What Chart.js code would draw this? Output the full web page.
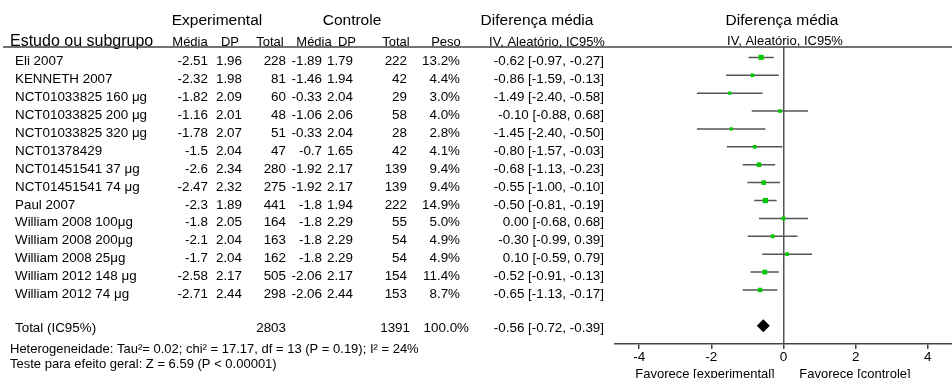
<!DOCTYPE html>
<html>
<head>
<meta charset="utf-8">
<script src="https://cdn.jsdelivr.net/npm/chart.js@4"></script>
<style>
  html, body { margin: 0; padding: 0; background: #fff; }
</style>
</head>
<body>
<canvas id="forestCanvas" width="952" height="378"></canvas>
<script>
// study rows, top to bottom
const studies = ["Eli 2007", "KENNETH 2007", "NCT01033825 160 μg", "NCT01033825 200 μg", "NCT01033825 320 μg",
  "NCT01378429", "NCT01451541 37 μg", "NCT01451541 74 μg", "Paul 2007", "William 2008 100μg",
  "William 2008 200μg", "William 2008 25μg", "William 2012 148 μg", "William 2012 74 μg"];
const expMean = [-2.51, -2.32, -1.82, -1.16, -1.78, -1.5, -2.6, -2.47, -2.3, -1.8, -2.1, -1.7, -2.58, -2.71];
const expSD = [1.96, 1.98, 2.09, 2.01, 2.07, 2.04, 2.34, 2.32, 1.89, 2.05, 2.04, 2.04, 2.17, 2.44];
const expN = [228, 81, 60, 48, 51, 47, 280, 275, 441, 164, 163, 162, 505, 298];
const ctrlMean = [-1.89, -1.46, -0.33, -1.06, -0.33, -0.7, -1.92, -1.92, -1.8, -1.8, -1.8, -1.8, -2.06, -2.06];
const ctrlSD = [1.79, 1.94, 2.04, 2.06, 2.04, 1.65, 2.17, 2.17, 1.94, 2.29, 2.29, 2.29, 2.17, 2.44];
const ctrlN = [222, 42, 29, 58, 28, 42, 139, 139, 222, 55, 54, 54, 154, 153];
const weights = [13.2, 4.4, 3.0, 4.0, 2.8, 4.1, 9.4, 9.4, 14.9, 5.0, 4.9, 4.9, 11.4, 8.7];
const meanDiff = [-0.62, -0.86, -1.49, -0.10, -1.45, -0.80, -0.68, -0.55, -0.50, 0.00, -0.30, 0.10, -0.52, -0.65];
const ciLow = [-0.97, -1.59, -2.40, -0.88, -2.40, -1.57, -1.13, -1.00, -0.81, -0.68, -0.99, -0.59, -0.91, -1.13];
const ciHigh = [-0.27, -0.13, -0.58, 0.68, -0.50, -0.03, -0.23, -0.10, -0.19, 0.68, 0.39, 0.79, -0.13, -0.17];

// pooled result
const totalExpN = 2803;
const totalCtrlN = 1391;
const totalWeight = 100.0;
const totalMD = -0.56;
const totalLow = -0.72;
const totalHigh = -0.39;
const totalRow = 15;

const xTicks = [-4, -2, 0, 2, 4];

const FONT = '"Liberation Sans", Arial, Helvetica, sans-serif';
const BODY = 13.4;

// whisker segments, broken by gaps
const whiskers = [];
for (let i = 0; i < studies.length; i++) {
  whiskers.push({x: ciLow[i], y: i}, {x: ciHigh[i], y: i}, {x: null, y: null});
}

const fmt2 = v => v.toFixed(2);

const tablePlugin = {
  id: "table",
  afterDraw(chart) {
    const ctx = chart.ctx;
    const ys = chart.scales.y;
    const area = chart.chartArea;
    ctx.save();
    ctx.fillStyle = "#000";
    ctx.textBaseline = "alphabetic";

    function txt(s, x, y, align, size) {
      ctx.font = size + "px " + FONT;
      ctx.textAlign = align;
      ctx.fillText(s, x, y);
    }

    // group headers
    txt("Experimental", 217, 25, "center", 15.5);
    txt("Controle", 352, 25, "center", 15.5);
    txt("Diferença média", 537, 25, "center", 15.5);
    txt("Diferença média", 782, 25, "center", 15.5);
    txt("Estudo ou subgrupo", 10, 45.5, "left", 16);
    txt("Média", 190, 45.5, "center", 13);
    txt("DP", 230, 45.5, "center", 13);
    txt("Total", 270, 45.5, "center", 13);
    txt("Média", 314, 45.5, "center", 13);
    txt("DP", 347, 45.5, "center", 13);
    txt("Total", 396, 45.5, "center", 13);
    txt("Peso", 446, 45.5, "center", 13);
    txt("IV, Aleatório, IC95%", 547, 45.5, "center", 13);
    txt("IV, Aleatório, IC95%", 785, 44.5, "center", 13);

    // header rule
    ctx.strokeStyle = "#444";
    ctx.lineWidth = 1.5;
    ctx.beginPath();
    ctx.moveTo(3, area.top);
    ctx.lineTo(952, area.top);
    ctx.stroke();

    // study rows
    for (let i = 0; i < studies.length; i++) {
      const y = ys.getPixelForValue(i) + 8;
      txt(studies[i], 15, y, "left", BODY);
      txt(String(expMean[i]), 208, y, "right", BODY);
      txt(fmt2(expSD[i]), 242, y, "right", BODY);
      txt(String(expN[i]), 286, y, "right", BODY);
      txt(String(ctrlMean[i]), 322, y, "right", BODY);
      txt(fmt2(ctrlSD[i]), 353, y, "right", BODY);
      txt(String(ctrlN[i]), 407, y, "right", BODY);
      txt(weights[i].toFixed(1) + "%", 460, y, "right", BODY);
      txt(fmt2(meanDiff[i]) + " [" + fmt2(ciLow[i]) + ", " + fmt2(ciHigh[i]) + "]", 604, y, "right", BODY);
    }

    // total row
    const ty = ys.getPixelForValue(totalRow) + 6;
    txt("Total (IC95%)", 15, ty, "left", BODY);
    txt(String(totalExpN), 286, ty, "right", BODY);
    txt(String(totalCtrlN), 410, ty, "right", BODY);
    txt(totalWeight.toFixed(1) + "%", 469, ty, "right", BODY);
    txt(fmt2(totalMD) + " [" + fmt2(totalLow) + ", " + fmt2(totalHigh) + "]", 604, ty, "right", BODY);

    txt("Heterogeneidade: Tau²= 0.02; chi² = 17.17, df = 13 (P = 0.19); I² = 24%", 10, 352.5, "left", 13);
    txt("Teste para efeito geral: Z = 6.59 (P < 0.00001)", 10, 368, "left", 13);

    // favours labels under the axis
    txt("Favorece [experimental]", 705, 377.5, "center", 13);
    txt("Favorece [controle]", 855, 377.5, "center", 13);
    ctx.restore();
  }
};

new Chart("forestCanvas", {
  type: "scatter",
  data: {
    datasets: [
      {
        data: whiskers,
        showLine: true,
        spanGaps: false,
        borderColor: "#555",
        borderWidth: 1.5,
        pointRadius: 0,
        order: 2
      },
      {
        data: meanDiff.map((v, i) => ({x: v, y: i})),
        pointStyle: "rect",
        pointRadius: weights.map(w => 0.707 * (1.8 + 0.9 * Math.sqrt(w))),
        backgroundColor: "#00c800",
        borderWidth: 0,
        order: 1
      },
      {
        data: [{x: totalMD, y: totalRow}],
        pointStyle: "rectRot",
        pointRadius: 6.5,
        backgroundColor: "#000",
        borderWidth: 0,
        order: 0
      }
    ]
  },
  options: {
    responsive: false,
    animation: false,
    layout: { autoPadding: false, padding: { left: 615, top: 47, right: 0, bottom: 0 } },
    plugins: {
      legend: { display: false },
      tooltip: { enabled: false }
    },
    scales: {
      x: {
        type: "linear",
        position: "bottom",
        min: -4.67,
        max: 4.67,
        afterBuildTicks: s => { s.ticks = xTicks.map(v => ({value: v})); },
        afterFit: s => {
          s.height = 34;
          s.paddingLeft = 0;
          s.paddingRight = 0;
        },
        ticks: {
          font: { family: FONT, size: 13.5 },
          color: "#000",
          padding: 0,
          autoSkip: false,
          maxRotation: 0
        },
        grid: {
          color: c => (c.tick && c.tick.value === 0) ? "#555" : "rgba(0,0,0,0)",
          lineWidth: 1.5,
          tickColor: "#444",
          tickLength: 5
        },
        border: { color: "#444", width: 1.5 }
      },
      y: {
        type: "linear",
        reverse: true,
        min: -0.58,
        max: 16.02,
        display: false
      }
    }
  },
  plugins: [tablePlugin]
});
</script>
</body>
</html>
